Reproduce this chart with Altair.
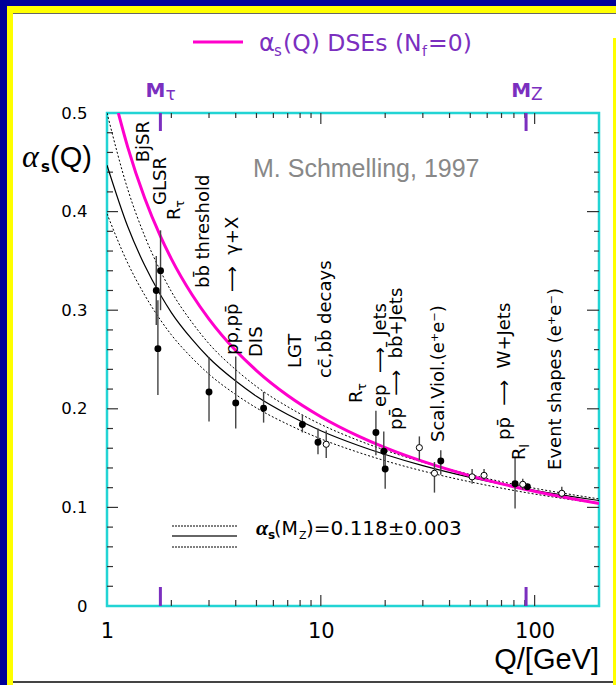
import altair as alt
import pandas as pd

# ---------------- data ----------------
# filled measurements
f_q = [1.70, 1.73, 1.78, 3.0, 4.0, 5.4, 8.2, 9.7, 18.1, 19.7, 20.0, 36.4, 81.0, 92.5]
f_a = [0.320, 0.261, 0.340, 0.217, 0.206, 0.2005, 0.184, 0.166, 0.176, 0.157, 0.139, 0.147, 0.124, 0.121]
f_lo = [0.285, 0.214, 0.300, 0.187, 0.180, 0.186, 0.176, 0.154, 0.153, 0.140, 0.119, 0.133, 0.099, 0.118]
f_hi = [0.355, 0.310, 0.381, 0.2525, 0.253, 0.217, 0.194, 0.180, 0.198, 0.177, 0.158, 0.158, 0.150, 0.124]
# open measurements
o_q = [10.6, 28.9, 34.0, 51.0, 58.0, 88.0, 134.0]
o_a = [0.164, 0.1606, 0.1346, 0.131, 0.1325, 0.1234, 0.1143]
o_lo = [0.150, 0.148, 0.115, 0.124, 0.128, 0.118, 0.110]
o_hi = [0.178, 0.172, 0.146, 0.139, 0.139, 0.129, 0.121]

# DSE curve (magenta)
mag_q = [1.13, 1.25, 1.5, 1.777, 2.0, 2.5, 3.0, 4.0, 5.0, 7.0, 10.0, 15.0, 20.0, 30.0, 50.0, 91.19, 150.0, 200.0]
mag_a = [0.500, 0.4654, 0.4138, 0.3751, 0.3521, 0.3157, 0.2910, 0.2591, 0.2388, 0.2135, 0.1920, 0.1723,
         0.1606, 0.1466, 0.1320, 0.1182, 0.1088, 0.1040]
# alpha_s(MZ)=0.118 +- 0.003 bands
band_q = [1.0, 1.25, 1.5, 1.777, 2.0, 2.5, 3.0, 4.0, 5.0, 7.0, 10.0, 15.0, 20.0, 30.0, 50.0, 91.19, 150.0, 200.0]
mid_a = [0.4470, 0.3848, 0.3455, 0.3156, 0.2976, 0.2703, 0.2515, 0.2281, 0.2127, 0.1942, 0.1778, 0.1628,
         0.1536, 0.1423, 0.1304, 0.1188, 0.1110, 0.1070]
up_a = [0.5000, 0.4227, 0.3753, 0.3399, 0.3189, 0.2875, 0.2660, 0.2397, 0.2226, 0.2021, 0.1842, 0.1679,
        0.1580, 0.1459, 0.1333, 0.1210, 0.1129, 0.1086]
lo_a = [0.3978, 0.3478, 0.3154, 0.2902, 0.2750, 0.2515, 0.2351, 0.2145, 0.2009, 0.1843, 0.1695, 0.1558,
        0.1473, 0.1369, 0.1259, 0.1150, 0.1077, 0.1039]

# rotated process labels
ARR = "\u00a0\u00a0\u27f6\u00a0\u00a0"
lab_text = ["BjSR", "GLSR", "R", "bb\u0304 threshold", "pp,pp\u0304" + ARR + "\u03b3+X", "DIS", "LGT",
            "cc\u0304,bb\u0304 decays", "R", "ep" + ARR + "Jets", "pp\u0304" + ARR + "bb\u0304+Jets",
            "Scal.Viol.(e\u207ae\u207b)", "pp\u0304" + ARR + "W+Jets", "R", "Event shapes (e\u207ae\u207b)"]
lab_q = [1.49, 1.79, 2.08, 2.84, 3.88, 5.03, 7.66, 10.58, 14.77, 19.1, 22.7, 35.7, 72.7, 85.4, 126.0]
lab_a = [0.450, 0.4067, 0.3915, 0.3225, 0.2546, 0.2525, 0.2414, 0.2312, 0.2059, 0.2018, 0.1785,
         0.1663, 0.1684, 0.148, 0.138]
sub_text = ["\u03c4", "\u03c4", "l"]
sub_q = [2.08, 14.77, 85.4]
sub_a = [0.3915, 0.2059, 0.148]

# mass markers
m_q = [1.777, 91.19]
m_sub = ["\u03c4", "Z"]

# ticks / labels
x_label_vals = [1, 10, 100]
x_major = [10, 100]
x_minor = [2, 3, 4, 5, 6, 7, 8, 9, 20, 30, 40, 50, 60, 70, 80, 90]
y_label_vals = [0, 0.1, 0.2, 0.3, 0.4, 0.5]
y_major = [0.1, 0.2, 0.3, 0.4]
y_minor = [0.02, 0.04, 0.06, 0.08, 0.12, 0.14, 0.16, 0.18, 0.22, 0.24, 0.26, 0.28,
           0.32, 0.34, 0.36, 0.38, 0.42, 0.44, 0.46, 0.48]

# ---------------- layout ----------------
W, H = 492, 493
OX, OY = 107, 113
TOTW, TOTH = 616, 685
PURPLE = "#7b2fbf"
MAGENTA = "#ff00cc"
FONT = "DejaVu Sans"

xs = alt.Scale(type="log", domain=[1, 200], nice=False)
ys = alt.Scale(domain=[0, 0.5], nice=False)
xaxis = alt.Axis(values=x_label_vals, title=None, grid=False, domain=False, ticks=False, tickSize=0,
                 labelFont=FONT, labelFontSize=21, labelColor="black", labelPadding=14,
                 labelFlush=False, labelOverlap=False, labelExpr="format(datum.value, 'd')")
yaxis = alt.Axis(values=y_label_vals, title=None, grid=False, domain=False, ticks=False, tickSize=0,
                 labelFont=FONT, labelFontSize=16.5, labelColor="black", labelPadding=20,
                 labelFlush=False, labelOverlap=False,
                 labelExpr="datum.value == 0 ? '0' : format(datum.value, '.1f')")


def X(f="q"):
    return alt.X(f"{f}:Q", scale=xs, axis=xaxis)


def Y(f="a"):
    return alt.Y(f"{f}:Q", scale=ys, axis=yaxis)


def one():
    return pd.DataFrame({"k": [0]})


def rect(x1, x2, y1, y2, color):
    # absolute page pixels -> plot-relative
    return alt.Chart(one()).mark_rect(color=color).encode(
        x=alt.value(x1 - OX), x2=alt.value(x2 - OX), y=alt.value(y1 - OY), y2=alt.value(y2 - OY))


def ptext(txt, x, y, size, font=FONT, color="black", weight="normal", style="normal", align="left"):
    return alt.Chart(one()).mark_text(text=txt, font=font, fontSize=size, color=color, fontWeight=weight,
                                      fontStyle=style, align=align, baseline="alphabetic").encode(
        x=alt.value(x - OX), y=alt.value(y - OY))


layers = []
# page frame decoration
layers += [
    rect(0, TOTW, 0, 6, "#000099"),
    rect(0, 7, 0, TOTH, "#000099"),
    rect(7, TOTW, 6, 13, "#ffff00"),
    rect(7, 13, 6, TOTH, "#ffff00"),
    rect(613, TOTW, 38, TOTH, "#ffff00"),
    rect(13, TOTW, 13, 14, "#666666"),
    rect(13, 613, 681, 683, "#444444"),
]

# inward ticks
xmin_df = pd.DataFrame({"q": x_minor})
xmaj_df = pd.DataFrame({"q": x_major})
ymin_df = pd.DataFrame({"a": y_minor})
ymaj_df = pd.DataFrame({"a": y_major})
tk = dict(color="#333333", strokeWidth=1.2)
layers += [
    alt.Chart(xmin_df).mark_rule(**tk).encode(x=X(), y=alt.value(H), y2=alt.value(H - 6)),
    alt.Chart(xmin_df).mark_rule(**tk).encode(x=X(), y=alt.value(0), y2=alt.value(5)),
    alt.Chart(xmaj_df).mark_rule(**tk).encode(x=X(), y=alt.value(H), y2=alt.value(H - 11)),
    alt.Chart(xmaj_df).mark_rule(**tk).encode(x=X(), y=alt.value(0), y2=alt.value(11)),
    alt.Chart(ymin_df).mark_rule(**tk).encode(y=Y(), x=alt.value(0), x2=alt.value(6)),
    alt.Chart(ymin_df).mark_rule(**tk).encode(y=Y(), x=alt.value(W), x2=alt.value(W - 5)),
    alt.Chart(ymaj_df).mark_rule(**tk).encode(y=Y(), x=alt.value(0), x2=alt.value(11)),
    alt.Chart(ymaj_df).mark_rule(**tk).encode(y=Y(), x=alt.value(W), x2=alt.value(W - 12)),
]
m_df = pd.DataFrame({"q": m_q, "sub": m_sub})
layers += [
    alt.Chart(m_df).mark_rule(color=PURPLE, strokeWidth=3).encode(x=X(), y=alt.value(0), y2=alt.value(18)),
    alt.Chart(m_df).mark_rule(color=PURPLE, strokeWidth=3).encode(x=X(), y=alt.value(H), y2=alt.value(H - 19)),
    alt.Chart(m_df).mark_text(text="M", font=FONT, fontSize=20, fontWeight="bold", color=PURPLE,
                              align="right", baseline="alphabetic", dx=5).encode(x=X(), y=alt.value(-16)),
    alt.Chart(m_df).mark_text(font=FONT, fontSize=17, color=PURPLE, align="left",
                              baseline="alphabetic", dx=5).encode(x=X(), y=alt.value(-13), text="sub:N"),
]

# curves
band_df = pd.DataFrame({"q": band_q, "mid": mid_a, "up": up_a, "lo": lo_a})
mag_df = pd.DataFrame({"q": mag_q, "a": mag_a})
layers += [
    alt.Chart(band_df).mark_line(color="black", strokeWidth=1, strokeDash=[2, 2], interpolate="monotone",
                                 clip=True).encode(x=X(), y=Y("up")),
    alt.Chart(band_df).mark_line(color="black", strokeWidth=1, strokeDash=[2, 2], interpolate="monotone",
                                 clip=True).encode(x=X(), y=Y("lo")),
    alt.Chart(band_df).mark_line(color="black", strokeWidth=1.2, interpolate="monotone",
                                 clip=True).encode(x=X(), y=Y("mid")),
    alt.Chart(mag_df).mark_line(color=MAGENTA, strokeWidth=3, interpolate="monotone",
                                clip=True).encode(x=X(), y=Y()),
]

# data points
f_df = pd.DataFrame({"q": f_q, "a": f_a, "lo": f_lo, "hi": f_hi})
o_df = pd.DataFrame({"q": o_q, "a": o_a, "lo": o_lo, "hi": o_hi})
eb = dict(color="#444444", strokeWidth=1.4)
layers += [
    alt.Chart(f_df).mark_rule(**eb).encode(x=X(), y=Y("lo"), y2="hi:Q"),
    alt.Chart(o_df).mark_rule(**eb).encode(x=X(), y=Y("lo"), y2="hi:Q"),
    alt.Chart(f_df).mark_point(filled=True, color="black", size=48, opacity=1).encode(x=X(), y=Y()),
    alt.Chart(o_df).mark_point(shape="circle", fill="white", stroke="black", strokeWidth=1, size=38,
                               opacity=1, fillOpacity=1).encode(x=X(), y=Y()),
]

# rotated labels
lab_df = pd.DataFrame({"q": lab_q, "a": lab_a, "t": lab_text})
sub_df = pd.DataFrame({"q": sub_q, "a": sub_a, "t": sub_text})
layers += [
    alt.Chart(lab_df).mark_text(font=FONT, fontSize=18, color="black", angle=270, align="left",
                                baseline="middle").encode(x=X(), y=Y(), text="t:N"),
    alt.Chart(sub_df).mark_text(font=FONT, fontSize=12, color="black", angle=270, align="left",
                                baseline="middle", dx=12.5, dy=5).encode(x=X(), y=Y(), text="t:N"),
]

# legend inside plot
leg = [
    alt.Chart(one()).mark_rule(color="black", strokeWidth=1, strokeDash=[2, 1]).encode(
        x=alt.value(65), x2=alt.value(130), y=alt.value(413)),
    alt.Chart(one()).mark_rule(color="#333333", strokeWidth=1.3).encode(
        x=alt.value(65), x2=alt.value(130), y=alt.value(423)),
    alt.Chart(one()).mark_rule(color="black", strokeWidth=1, strokeDash=[2, 1]).encode(
        x=alt.value(65), x2=alt.value(130), y=alt.value(434)),
    ptext("\u03b1", 256, 535, 22, font="Liberation Serif", style="italic", weight="bold"),
    ptext("s", 268, 539, 12, weight="bold"),
    ptext("(M", 274, 535, 19),
    ptext("Z", 299, 539, 11),
    ptext(")=0.118\u00b10.003", 306, 535, 20),
]
layers += leg

# title / annotations
layers += [
    alt.Chart(one()).mark_rule(color=MAGENTA, strokeWidth=3).encode(
        x=alt.value(193 - OX), x2=alt.value(243 - OX), y=alt.value(42 - OY)),
    ptext("\u03b1", 259, 51, 24, color=PURPLE),
    ptext("s", 274, 56, 15, color=PURPLE),
    ptext("(Q) DSEs (N", 283, 51, 23.5, color=PURPLE),
    ptext("f", 422, 56, 14, color=PURPLE),
    ptext("=0)", 428, 51, 23.5, color=PURPLE),
    # y title
    ptext("\u03b1", 22, 167, 32, font="Liberation Serif", style="italic"),
    ptext("s", 41, 172, 15, weight="bold"),
    ptext("(Q)", 50, 167, 29, font="Liberation Sans"),
    # x title
    ptext("Q/[GeV]", 599, 669, 29, font="Liberation Sans", align="right"),
    ptext("M. Schmelling, 1997", 253, 177, 25, font="Liberation Sans", color="#888888"),
]

chart = alt.layer(*layers).properties(
    width=W, height=H,
    padding={"left": OX, "top": OY, "right": TOTW - OX - W, "bottom": TOTH - OY - H},
    autosize=alt.AutoSizeParams(type="none"),
    background="white",
).configure_view(stroke="#22d4d4", strokeWidth=2.5)

chart.save("out.html", embed_options={"renderer": "svg", "actions": False})
